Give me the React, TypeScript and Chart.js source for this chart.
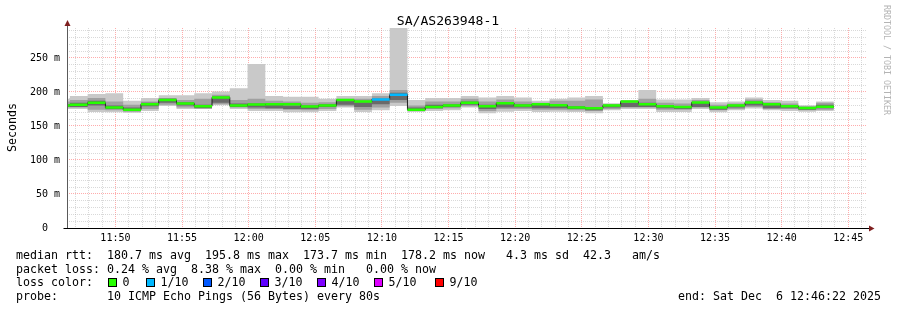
import React, { useEffect, useRef } from "react";
import { Chart, registerables } from "chart.js";

Chart.register(...registerables);

// Start time of every 80 s step (last entry = end of last step)
const stepStarts = [
  "11:45:15", "11:46:35", "11:47:55", "11:49:15", "11:50:35", "11:51:55", "11:53:15", "11:54:35",
  "11:55:55", "11:57:15", "11:58:35", "11:59:55", "12:01:15", "12:02:35", "12:03:55", "12:05:15",
  "12:06:35", "12:07:55", "12:09:15", "12:10:35", "12:11:55", "12:13:15", "12:14:35", "12:15:55",
  "12:17:15", "12:18:35", "12:19:55", "12:21:15", "12:22:35", "12:23:55", "12:25:15", "12:26:35",
  "12:27:55", "12:29:15", "12:30:35", "12:31:55", "12:33:15", "12:34:35", "12:35:55", "12:37:15",
  "12:38:35", "12:39:55", "12:41:15", "12:42:35", "12:43:55",
];

// RTT values in ms
const rttMin = [175, 175, 170.5, 170, 169.6, 172, 179.5, 175, 175, 180.5, 175, 172, 172, 170, 170, 172, 177, 170.6, 173, 179.5, 170.6, 172, 173, 177, 168.6, 171, 172, 170.6, 171, 170.6, 168.6, 173, 175, 175, 170.6, 170.6, 175, 170, 173, 175.5, 173, 172, 171, 172];
const rttMax = [190, 194, 197, 198, 187, 191, 195, 195, 198, 200.5, 205.6, 241, 194, 193, 193, 190, 194, 194, 198, 294, 188, 191, 191, 194, 192, 194, 192, 187, 190, 192, 194, 183.4, 188, 203, 189, 189, 191, 185, 186, 192, 188, 187, 180.5, 186];
const midLo = [177, 177, 174, 173, 171, 175, 181, 177, 176, 182, 177, 175, 175, 174, 173, 175, 179, 174, 177, 184, 173, 175, 176, 179, 172, 175, 175, 174, 174, 173, 172, 175, 177, 177, 174, 174, 177, 173, 175, 178, 175, 175, 173, 174];
const midHi = [186, 188, 191, 186, 181, 186, 191, 188, 190, 196, 188, 190, 187, 186, 184, 185, 190, 190, 194, 203, 180, 186, 186, 190, 186, 189, 186, 184, 187, 187, 189, 182, 186, 190, 184, 183, 188, 181, 183, 189, 185, 183, 179, 184];
const innerLo = [178, 178, 180, 175, 173, 179, 184, 180, 176, 184, 178, 177, 176, 175, 175, 178, 181, 178, 182, 188, 173, 176, 178, 181, 175, 177, 177, 176, 176, 175, 173, 177, 178, 178, 176, 175, 178, 174, 177, 180, 176, 176, 174, 176];
const innerHi = [182, 184, 187, 180, 177, 184, 190, 185, 181, 193, 183, 183, 182, 180, 180, 182, 189, 185, 190, 199, 177, 181, 182, 186, 181, 184, 182, 182, 182, 179, 178, 181, 184, 184, 180, 179, 185, 178, 181, 186, 183, 180, 177, 181];
const medianRtt = [180, 181, 184, 177, 174, 182, 188, 183, 179, 192, 180, 181.6, 182, 182, 178.5, 180, 188, 186, 189, 195.8, 173.7, 177.8, 180, 184, 179, 183.5, 180, 182, 180.5, 177, 176, 180, 186, 182, 179, 178, 184.5, 177, 180, 184.5, 182, 179, 176.5, 178.2];
// loss class per step (index into lossLabels / lossColors)
const lossClass = [0, 0, 0, 0, 0, 0, 0, 0, 0, 0, 0, 0, 0, 0, 0, 0, 0, 0, 1, 1, 0, 0, 0, 0, 0, 0, 0, 0, 0, 0, 0, 0, 0, 0, 0, 0, 0, 0, 0, 0, 0, 0, 0, 0];

const lossLabels = ["0", "1/10", "2/10", "3/10", "4/10", "5/10", "9/10"];
const lossColors = ["#26ff00", "#00b8ff", "#0059ff", "#5e00ff", "#7e00ff", "#dd00ff", "#ff0000"];

const xTickLabels = ["11:50", "11:55", "12:00", "12:05", "12:10", "12:15", "12:20", "12:25", "12:30", "12:35", "12:40", "12:45"];
const yTickLabels = ["0  ", "50 m", "100 m", "150 m", "200 m", "250 m"];

const titleText = "SA/AS263948-1";
const yTitle = "Seconds";
const legendLine1 = "median rtt:  180.7 ms avg  195.8 ms max  173.7 ms min  178.2 ms now   4.3 ms sd  42.3   am/s";
const legendLine2 = "packet loss: 0.24 % avg  8.38 % max  0.00 % min   0.00 % now";
const legendLine3 = "loss color:";
const legendLine4 = "probe:       10 ICMP Echo Pings (56 Bytes) every 80s";
const endText = "end: Sat Dec  6 12:46:22 2025";
const watermark = "RRDTOOL / TOBI OETIKER";

const startTime = "11:46:22";
const endTime = "12:46:22";

const toSec = (s: string) => {
  const [h, m, sec] = s.split(":").map(Number);
  return h * 3600 + m * 60 + (sec || 0);
};

const MONO = '"DejaVu Sans Mono", monospace';

function stepData(values: number[]) {
  return stepStarts.map((t, i) => ({ x: toSec(t), y: values[Math.min(i, values.length - 1)] }));
}

function bandData(values: number[]) {
  const out: { x: number; y: number | null }[] = [];
  values.forEach((v, i) => {
    out.push({ x: toSec(stepStarts[i]), y: v });
    out.push({ x: toSec(stepStarts[i + 1]), y: v });
    out.push({ x: toSec(stepStarts[i + 1]), y: null });
  });
  return out;
}

const decor = {
  id: "decor",
  afterDatasetsDraw(chart: any) {
    const { ctx, chartArea: a } = chart;
    ctx.save();
    const xl = Math.round(a.left) + 0.5;
    const yb = Math.round(a.bottom) + 0.5;
    // y axis
    ctx.strokeStyle = "#5a5a5a";
    ctx.lineWidth = 1;
    ctx.beginPath();
    ctx.moveTo(xl, yb);
    ctx.lineTo(xl, a.top - 4);
    ctx.stroke();
    // x axis
    ctx.strokeStyle = "#000";
    ctx.beginPath();
    ctx.moveTo(xl - 4, yb);
    ctx.lineTo(a.right + 3, yb);
    ctx.stroke();
    // arrows
    ctx.fillStyle = "#7f1f1f";
    ctx.beginPath();
    ctx.moveTo(xl - 3, a.top - 2);
    ctx.lineTo(xl + 3, a.top - 2);
    ctx.lineTo(xl, a.top - 8);
    ctx.closePath();
    ctx.fill();
    ctx.beginPath();
    ctx.moveTo(a.right + 2.5, yb - 3);
    ctx.lineTo(a.right + 2.5, yb + 3);
    ctx.lineTo(a.right + 8, yb);
    ctx.closePath();
    ctx.fill();
    ctx.restore();
  },
  afterDraw(chart: any) {
    const { ctx } = chart;
    ctx.save();
    ctx.fillStyle = "#000";
    // title
    ctx.font = `13.1px ${MONO}`;
    ctx.textAlign = "center";
    ctx.textBaseline = "alphabetic";
    ctx.fillText(titleText, 448, 25);
    // y title
    ctx.save();
    ctx.font = `11.63px ${MONO}`;
    ctx.translate(15.5, 127.5);
    ctx.rotate(-Math.PI / 2);
    ctx.textAlign = "center";
    ctx.fillText(yTitle, 0, 0);
    ctx.restore();
    // legend
    ctx.font = `11.63px ${MONO}`;
    ctx.textAlign = "left";
    ctx.fillText(legendLine1, 16, 259);
    ctx.fillText(legendLine2, 16, 272.5);
    ctx.fillText(legendLine3, 16, 286);
    ctx.fillText(legendLine4, 16, 299.5);
    const boxX = [108, 146, 203, 260, 317, 374, 435];
    lossLabels.forEach((lab, i) => {
      const x = boxX[i];
      ctx.fillStyle = lossColors[i];
      ctx.fillRect(x, 278, 9, 9);
      ctx.strokeStyle = "#000";
      ctx.lineWidth = 1;
      ctx.strokeRect(x + 0.5, 278.5, 8, 8);
      ctx.fillStyle = "#000";
      ctx.fillText(lab, x + 14.5, 286);
    });
    ctx.textAlign = "right";
    ctx.fillText(endText, 881, 299.5);
    // watermark
    ctx.save();
    ctx.font = `8.3px ${MONO}`;
    ctx.fillStyle = "#b4b4b4";
    ctx.translate(884, 5);
    ctx.rotate(Math.PI / 2);
    ctx.textAlign = "left";
    ctx.fillText(watermark, 0, 0);
    ctx.restore();
    ctx.restore();
  },
};

export default function App() {
  const ref = useRef<HTMLCanvasElement | null>(null);
  useEffect(() => {
    if (!ref.current) return;
    const minorGrid = "rgba(170,170,170,0.45)";
    const majorGrid = "rgba(255,90,90,0.5)";
    const stepBase = { type: "line", stepped: true, pointRadius: 0, borderWidth: 0, tension: 0 };
    const chart = new Chart(ref.current, {
      type: "line",
      data: {
        datasets: [
          {
            ...stepBase,
            stepped: false,
            data: bandData(medianRtt),
            borderWidth: 2.5,
            borderColor: lossColors[0],
            spanGaps: false,
            fill: false,
            segment: {
              borderColor: (c: any) => lossColors[lossClass[Math.floor(c.p0DataIndex / 3)]],
            },
          },
          { ...stepBase, data: stepData(medianRtt), borderWidth: 1, borderColor: "#202020", fill: false },
          { ...stepBase, data: stepData(innerHi), fill: 3, backgroundColor: "#6a6a6a" },
          { ...stepBase, data: stepData(innerLo), fill: false },
          { ...stepBase, data: stepData(midHi), fill: 5, backgroundColor: "#a0a0a0" },
          { ...stepBase, data: stepData(midLo), fill: false },
          { ...stepBase, data: stepData(rttMax), fill: 7, backgroundColor: "#c9c9c9" },
          { ...stepBase, data: stepData(rttMin), fill: false },
        ] as any,
      },
      options: {
        animation: false,
        responsive: false,
        devicePixelRatio: 1,
        events: [],
        layout: { padding: { top: 28, right: 30.5, left: 0, bottom: 0 } },
        plugins: { legend: { display: false }, tooltip: { enabled: false }, title: { display: false } },
        scales: {
          x: {
            type: "linear",
            min: toSec(startTime),
            max: toSec(endTime),
            afterBuildTicks: (s: any) => {
              const ticks = [];
              const first = Math.ceil(toSec(startTime) / 60) * 60;
              for (let v = first; v <= toSec(endTime); v += 60) ticks.push({ value: v });
              s.ticks = ticks;
            },
            afterFit: (s: any) => {
              s.height = 82;
            },
            ticks: {
              autoSkip: false,
              maxRotation: 0,
              minRotation: 0,
              padding: 4,
              color: "#000",
              font: { family: MONO, size: 10 },
              callback: (v: any) => {
                const lab = xTickLabels.find((l) => toSec(l) === v);
                return lab || "";
              },
            },
            grid: {
              drawTicks: false,
              lineWidth: 1,
              color: (c: any) => (c.tick && c.tick.value % 300 === 0 ? majorGrid : minorGrid),
            },
            border: { display: false, dash: [1, 1] },
          },
          y: {
            type: "linear",
            min: 0,
            max: 294,
            afterBuildTicks: (s: any) => {
              const ticks = [];
              for (let v = 0; v <= 290; v += 10) ticks.push({ value: v });
              s.ticks = ticks;
            },
            afterFit: (s: any) => {
              s.width = 67;
            },
            ticks: {
              autoSkip: false,
              padding: 7,
              color: "#000",
              font: { family: MONO, size: 10 },
              callback: (v: any) => (v % 50 === 0 ? yTickLabels[v / 50] : ""),
            },
            grid: {
              drawTicks: false,
              lineWidth: 1,
              color: (c: any) => (c.tick && c.tick.value % 50 === 0 ? majorGrid : minorGrid),
            },
            border: { display: false, dash: [1, 1] },
          },
        },
      },
      plugins: [decor],
    } as any);
    return () => chart.destroy();
  }, []);
  return (
    <div style={{ position: "absolute", left: 0, top: 0, width: 897, height: 310, background: "#fff" }}>
      <canvas ref={ref} width={897} height={310} style={{ width: 897, height: 310, display: "block" }} />
    </div>
  );
}
